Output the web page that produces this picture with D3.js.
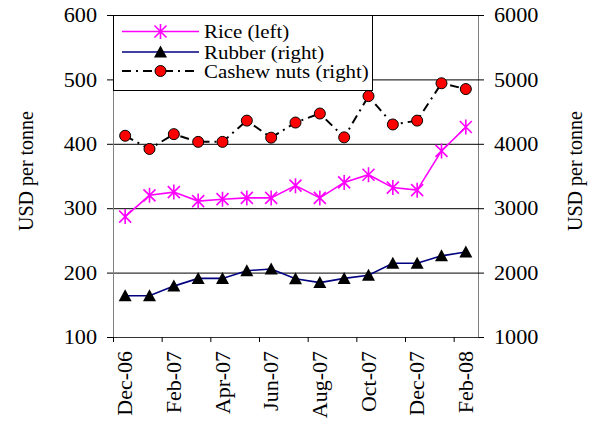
<!DOCTYPE html>
<html>
<head>
<meta charset="utf-8">
<script src="https://cdn.jsdelivr.net/npm/d3@7"></script>
<style>
  html, body { margin: 0; padding: 0; background: #fff; font-family: 'Liberation Serif', 'DejaVu Serif', serif; }
</style>
</head>
<body>
<svg id="chart" width="594" height="421"></svg>
<script>
// ---- Data ----
const categories = ["Dec-06","Jan-07","Feb-07","Mar-07","Apr-07","May-07","Jun-07","Jul-07",
                    "Aug-07","Sep-07","Oct-07","Nov-07","Dec-07","Jan-08","Feb-08"];
const riceLeft    = [287, 320, 325, 311, 314, 316, 316, 335, 316, 340, 352, 332, 328, 389, 426];
const rubberRight = [1640, 1640, 1790, 1910, 1910, 2030, 2055, 1905, 1845, 1910, 1960, 2145, 2145, 2260, 2320];
const cashewRight = [4125, 3920, 4150, 4030, 4030, 4360, 4095, 4330, 4470, 4100, 4740, 4300, 4360, 4940, 4850];
const leftTicks   = [100, 200, 300, 400, 500, 600];
const rightTicks  = [1000, 2000, 3000, 4000, 5000, 6000];
const xLabelCats  = ["Dec-06","Feb-07","Apr-07","Jun-07","Aug-07","Oct-07","Dec-07","Feb-08"];
const seriesNames = ["Rice (left)", "Rubber (right)", "Cashew nuts (right)"];

const FONT = "'Liberation Serif', 'Times New Roman', Tinos, 'DejaVu Serif', serif";

// ---- Layout ----
const svg = d3.select("#chart").attr("font-family", FONT).style("font-family", FONT);
const L = 113, R = 478, T = 15, B = 337;

const x = d3.scaleBand().domain(categories).range([L, R]).paddingInner(0).paddingOuter(0);
const xIdx = d3.scaleLinear().domain([0, categories.length]).range([L, R]);
const yL = d3.scaleLinear().domain([100, 600]).range([B, T]);
const yR = d3.scaleLinear().domain([1000, 6000]).range([B, T]);
const cx = d => x(d) + x.bandwidth() / 2;
const fmt = d3.format("d");

// gridlines
svg.append("g")
  .attr("transform", `translate(${L},0)`)
  .call(d3.axisLeft(yL).tickValues(leftTicks.slice(1)).tickSize(-(R - L)).tickFormat(""))
  .call(g => g.select(".domain").remove())
  .call(g => g.selectAll("line").attr("stroke", "#000").attr("stroke-width", 1));

// left axis
const gl = svg.append("g")
  .attr("transform", `translate(${L},0)`)
  .call(d3.axisLeft(yL).tickValues(leftTicks).tickFormat(fmt).tickSize(6).tickPadding(9).tickSizeOuter(0))
  .attr("font-family", FONT);
gl.select(".domain").attr("stroke", "#808080");
gl.selectAll(".tick line").attr("stroke", "#000");
gl.selectAll("text").attr("font-size", 21).attr("fill", "#000")
  .style("font-family", FONT)
  .attr("transform", "scale(1.06,1)");

// right axis
const gr = svg.append("g")
  .attr("transform", `translate(${R},0)`)
  .call(d3.axisRight(yR).tickValues(rightTicks).tickFormat(fmt).tickSize(6).tickPadding(9).tickSizeOuter(0))
  .attr("font-family", FONT);
gr.select(".domain").attr("stroke", "#808080");
gr.selectAll(".tick line").attr("stroke", "#000");
gr.selectAll("text").attr("font-size", 21).attr("fill", "#000")
  .style("font-family", FONT)
  .attr("transform", "scale(1.06,1)");

// bottom axis: tick marks at category boundaries
const gb = svg.append("g")
  .attr("transform", `translate(0,${B})`)
  .call(d3.axisBottom(xIdx).tickValues(d3.range(0, categories.length, 2)).tickSize(5).tickFormat("").tickSizeOuter(0));
gb.select(".domain").attr("stroke", "#333");
gb.selectAll(".tick line").attr("stroke", "#000");

// bottom axis labels at category centres
const gbl = svg.append("g")
  .attr("transform", `translate(0,${B})`)
  .call(d3.axisBottom(x).tickValues(xLabelCats).tickSize(0))
  .attr("font-family", FONT);
gbl.select(".domain").remove();
gbl.selectAll("text")
  .attr("font-size", 22).attr("fill", "#000")
  .style("font-family", FONT)
  .attr("transform", "rotate(-90)")
  .attr("x", -14).attr("y", 0).attr("dy", "0.33em")
  .style("text-anchor", "end");

// axis titles
svg.append("text").attr("transform", `translate(33,171) rotate(-90)`)
  .attr("text-anchor", "middle").attr("font-size", 20).style("font-family", FONT).text("USD per tonne");
svg.append("text").attr("transform", `translate(582,171) rotate(-90)`)
  .attr("text-anchor", "middle").attr("font-size", 20).style("font-family", FONT).text("USD per tonne");

// ---- Series ----
const starPath = "M-6,-6L6,6M-6,6L6,-6M0,-7.5L0,7.5";
const triPath = "M0,-6.5L6.5,5.5L-6.5,5.5Z";

// Rice
svg.append("path")
  .datum(riceLeft)
  .attr("fill", "none").attr("stroke", "#FF00FF").attr("stroke-width", 1.6)
  .attr("d", d3.line().x((d, i) => cx(categories[i])).y(d => yL(d)));
svg.append("g").selectAll("path").data(riceLeft).join("path")
  .attr("transform", (d, i) => `translate(${cx(categories[i])},${yL(d)})`)
  .attr("d", starPath).attr("fill", "none").attr("stroke", "#FF00FF").attr("stroke-width", 1.6);

// Rubber
svg.append("path")
  .datum(rubberRight)
  .attr("fill", "none").attr("stroke", "#000080").attr("stroke-width", 1.6)
  .attr("d", d3.line().x((d, i) => cx(categories[i])).y(d => yR(d)));
svg.append("g").selectAll("path").data(rubberRight).join("path")
  .attr("transform", (d, i) => `translate(${cx(categories[i])},${yR(d)})`)
  .attr("d", triPath).attr("fill", "#000");

// Cashew
svg.append("path")
  .datum(cashewRight)
  .attr("fill", "none").attr("stroke", "#000").attr("stroke-width", 2)
  .attr("stroke-dasharray", "9,5,2,5")
  .attr("d", d3.line().x((d, i) => cx(categories[i])).y(d => yR(d)));
svg.append("g").selectAll("circle").data(cashewRight).join("circle")
  .attr("cx", (d, i) => cx(categories[i])).attr("cy", d => yR(d)).attr("r", 5.5)
  .attr("fill", "#FF0000").attr("stroke", "#000").attr("stroke-width", 1);

// ---- Legend ----
const lg = svg.append("g");
lg.append("rect").attr("x", 113.5).attr("y", 15.5).attr("width", 259).attr("height", 75)
  .attr("fill", "#fff").attr("stroke", "#000").attr("stroke-width", 1);
const rowsY = [31.5, 52, 71];
const styles = [
  { stroke: "#FF00FF", w: 1.6, dash: null, marker: "star" },
  { stroke: "#000080", w: 1.6, dash: null, marker: "tri" },
  { stroke: "#000", w: 2, dash: "9,5,2,5", marker: "circle" }
];
seriesNames.forEach((name, i) => {
  const yy = rowsY[i], s = styles[i];
  lg.append("line").attr("x1", 122).attr("x2", 199).attr("y1", yy).attr("y2", yy)
    .attr("stroke", s.stroke).attr("stroke-width", s.w).attr("stroke-dasharray", s.dash);
  if (s.marker === "star") {
    lg.append("path").attr("transform", `translate(160.5,${yy})`).attr("d", starPath)
      .attr("fill", "none").attr("stroke", "#FF00FF").attr("stroke-width", 1.6);
  } else if (s.marker === "tri") {
    lg.append("path").attr("transform", `translate(160.5,${yy})`).attr("d", triPath).attr("fill", "#000");
  } else {
    lg.append("circle").attr("cx", 160.5).attr("cy", yy).attr("r", 5.5)
      .attr("fill", "#FF0000").attr("stroke", "#000");
  }
  lg.append("text").attr("transform", `translate(204,${yy}) scale(1.1,1)`)
    .attr("dy", "0.35em").attr("font-size", 19).style("font-family", FONT).text(name);
});
</script>
</body>
</html>
